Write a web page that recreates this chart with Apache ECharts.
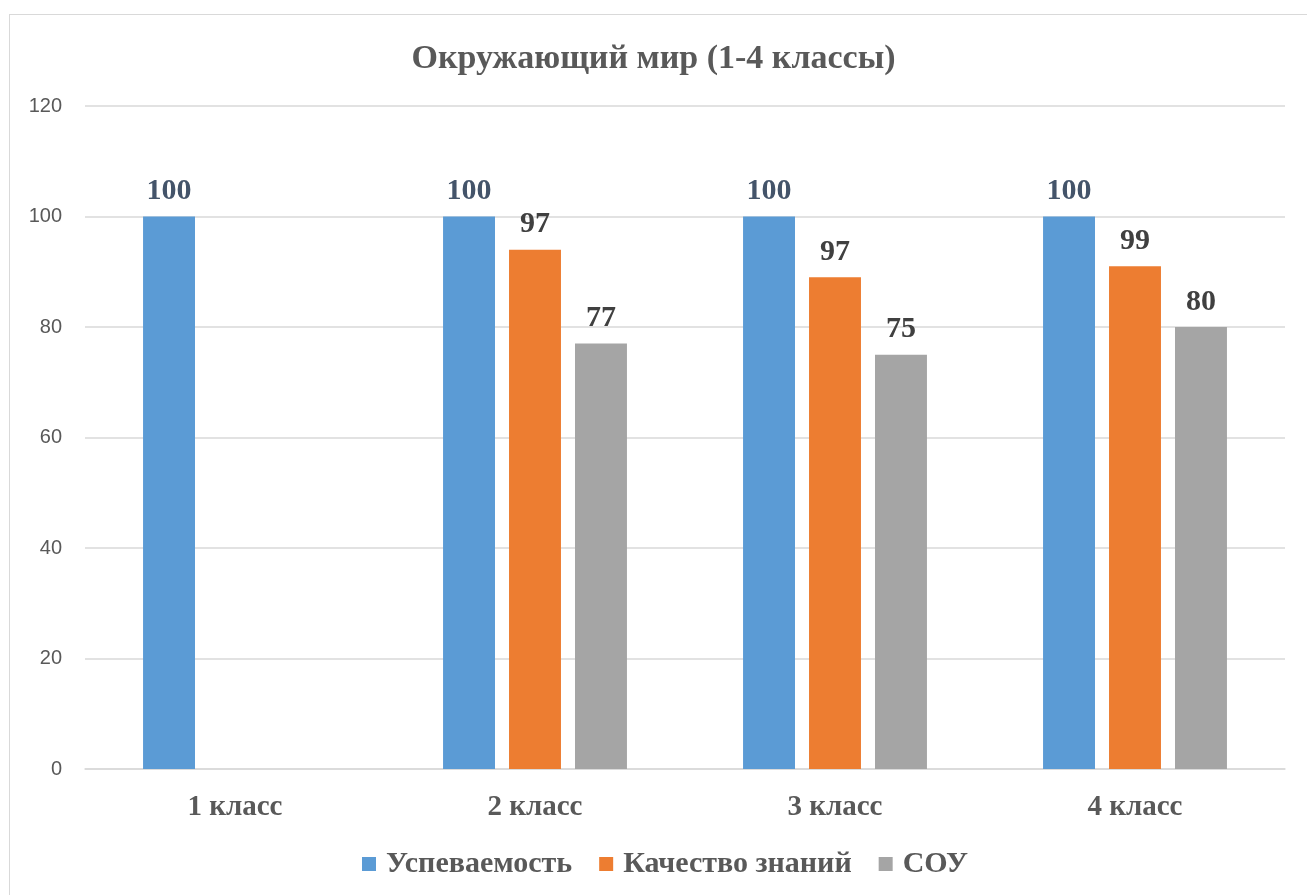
<!DOCTYPE html>
<html><head><meta charset="utf-8">
<script src="https://cdn.jsdelivr.net/npm/echarts@6/dist/echarts.min.js"></script>
<style>
html,body{margin:0;padding:0;background:#fff;}
#frame{position:absolute;left:9px;top:14px;width:1400px;height:1000px;border:1.5px solid #D9D9D9;box-sizing:border-box;}
#chart{position:absolute;left:0;top:0;width:1307px;height:895px;}
</style></head>
<body>
<div id="frame"></div>
<div id="chart"></div>
<script>
const titleText = 'Окружающий мир (1-4 классы)';
const categories = ['1 класс', '2 класс', '3 класс', '4 класс'];
const seriesNames = ['Успеваемость', 'Качество знаний', 'СОУ'];
// bar heights as drawn
const uspevaemost = [100, 100, 100, 100];
const kachestvo = ['-', 94, 89, 91];
const sou = ['-', 77, 75, 80];
// data label texts as printed
const uspevaemostLabels = [100, 100, 100, 100];
const kachestvoLabels = ['', 97, 97, 99];
const souLabels = ['', 77, 75, 80];
const yTicks = [0, 20, 40, 60, 80, 100, 120];

const colors = ['#5B9BD5', '#ED7D31', '#A5A5A5'];
const serif = '"Liberation Serif", "DejaVu Serif", serif';
const chart = echarts.init(document.getElementById('chart'));
function mk(name, data, labels, color, labelColor) {
  return {
    name: name, type: 'bar', data: data,
    barGap: '27%', barCategoryGap: '38.7%',
    itemStyle: { color: color },
    label: {
      show: true, position: 'top', distance: 10,
      fontFamily: serif, fontWeight: 'bold', fontSize: 30, color: labelColor,
      formatter: p => String(labels[p.dataIndex])
    }
  };
}
chart.setOption({
  animation: false,
  title: {
    text: titleText, left: 'center', top: 37,
    textStyle: { fontFamily: serif, fontWeight: 'bold', fontSize: 34, color: '#595959' }
  },
  legend: {
    top: 844, left: 357, itemWidth: 14, itemHeight: 14, itemGap: 27,
    icon: 'rect',
    textStyle: { fontFamily: serif, fontWeight: 'bold', fontSize: 30, color: '#595959', padding: [0,0,0,5] }
  },
  grid: { left: 85, right: 22, top: 106, bottom: 126 },
  xAxis: {
    type: 'category', data: categories,
    axisLine: { lineStyle: { color: '#D9D9D9', width: 1.5 } },
    axisTick: { show: false },
    axisLabel: { fontFamily: serif, fontWeight: 'bold', fontSize: 29, color: '#595959', margin: 24 }
  },
  yAxis: {
    type: 'value', min: yTicks[0], max: yTicks[yTicks.length - 1], interval: 20,
    axisLine: { show: false }, axisTick: { show: false },
    splitLine: { lineStyle: { color: '#D9D9D9', width: 1.5 } },
    axisLabel: { fontFamily: '"Liberation Sans", sans-serif', fontSize: 20, color: '#595959', margin: 23 }
  },
  series: [
    mk(seriesNames[0], uspevaemost, uspevaemostLabels, colors[0], '#44546A'),
    mk(seriesNames[1], kachestvo, kachestvoLabels, colors[1], '#404040'),
    mk(seriesNames[2], sou, souLabels, colors[2], '#404040')
  ]
});
</script>
</body></html>
